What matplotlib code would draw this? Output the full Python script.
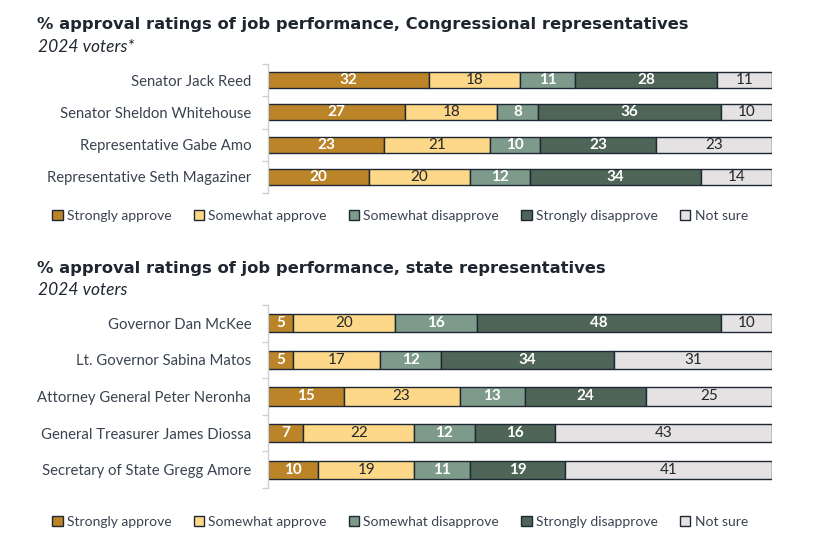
import matplotlib
matplotlib.use("Agg")
import matplotlib.pyplot as plt
from matplotlib.patches import Patch
import numpy as np

series = ["Strongly approve", "Somewhat approve", "Somewhat disapprove", "Strongly disapprove", "Not sure"]
colors = ["#BC8428", "#FDD888", "#7E9A8A", "#4F6558", "#E4E2E2"]
text_colors = ["white", "#262626", "white", "white", "#262626"]

cong_names = ["Senator Jack Reed", "Senator Sheldon Whitehouse",
              "Representative Gabe Amo", "Representative Seth Magaziner"]
cong_strong_app = [32, 27, 23, 20]
cong_some_app = [18, 18, 21, 20]
cong_some_dis = [11, 8, 10, 12]
cong_strong_dis = [28, 36, 23, 34]
cong_not_sure = [11, 10, 23, 14]

state_names = ["Governor Dan McKee", "Lt. Governor Sabina Matos",
               "Attorney General Peter Neronha", "General Treasurer James Diossa",
               "Secretary of State Gregg Amore"]
state_strong_app = [5, 5, 15, 7, 10]
state_some_app = [20, 17, 23, 22, 19]
state_some_dis = [16, 12, 13, 12, 11]
state_strong_dis = [48, 34, 24, 16, 19]
state_not_sure = [10, 31, 25, 43, 41]

title1 = "% approval ratings of job performance, Congressional representatives"
sub1 = "2024 voters*"
title2 = "% approval ratings of job performance, state representatives"
sub2 = "2024 voters"

FONT = "Lato"
LABEL_COLOR = "#3A4350"
EDGE = "#1E2833"

fig = plt.figure(figsize=(8.31, 5.57), dpi=100)


def draw(ax, names, data):
    data = np.array(data, dtype=float)
    totals = data.sum(axis=0)
    pct = data / totals * 100  # 100% stacked
    y = np.arange(len(names))
    left = np.zeros(len(names))
    for i in range(len(series)):
        ax.barh(y, pct[i], left=left, height=0.5, color=colors[i],
                edgecolor=EDGE, linewidth=1.0)
        for j in range(len(names)):
            ax.text(left[j] + pct[i][j] / 2, y[j], f"{int(data[i][j])}",
                    ha="center", va="center", color=text_colors[i],
                    fontsize=11, family=FONT,
                    fontweight="bold" if text_colors[i] == "white" else "normal")
        left += pct[i]
    ax.set_xlim(0, 100)
    ax.set_ylim(len(names) - 0.5, -0.5)
    ax.set_yticks(y)
    ax.set_yticklabels(names, family=FONT, fontsize=10.7, color=LABEL_COLOR)
    ax.tick_params(axis="y", which="major", length=0, pad=16)
    ax.set_yticks(np.arange(len(names) + 1) - 0.5, minor=True)
    ax.tick_params(axis="y", which="minor", length=4, color="#D0D0D0", width=1)
    ax.set_xticks([])
    for s in ["top", "right", "bottom"]:
        ax.spines[s].set_visible(False)
    ax.spines["left"].set_color("#D0D0D0")
    ax.spines["left"].set_linewidth(1)


L = 268 / 831
W = (772 - 268) / 831

ax1 = fig.add_axes([L, 1 - 193 / 557, W, (193 - 64) / 557])
draw(ax1, cong_names, [cong_strong_app, cong_some_app, cong_some_dis, cong_strong_dis, cong_not_sure])

ax2 = fig.add_axes([L, 1 - 488 / 557, W, (488 - 305) / 557])
draw(ax2, state_names, [state_strong_app, state_some_app, state_some_dis, state_strong_dis, state_not_sure])

for ax in (ax1, ax2):
    ax.tick_params(axis="y", which="major", pad=12)

fig.text(37 / 831, 1 - 25 / 557, title1, fontsize=11.8, fontweight="bold",
         family="DejaVu Sans", color="#1F2630", va="center", ha="left")
fig.text(38 / 831, 1 - 47 / 557, sub1, fontsize=12.5, style="italic",
         family=FONT, color="#1F2630", va="center", ha="left")
fig.text(37 / 831, 1 - 268 / 557, title2, fontsize=11.8, fontweight="bold",
         family="DejaVu Sans", color="#1F2630", va="center", ha="left")
fig.text(38 / 831, 1 - 290 / 557, sub2, fontsize=12.5, style="italic",
         family=FONT, color="#1F2630", va="center", ha="left")

handles = [Patch(facecolor=c, edgecolor=EDGE, linewidth=1.0) for c in colors]
for yy in [216, 522]:
    fig.legend(handles, series, loc="center", bbox_to_anchor=(400 / 831, 1 - yy / 557),
               ncol=5, frameon=False, handlelength=0.75, handleheight=0.75,
               handletextpad=0.3, columnspacing=1.6,
               prop={"family": FONT, "size": 10})
for leg in fig.legends:
    for t in leg.get_texts():
        t.set_color(LABEL_COLOR)

fig.savefig("out.png", dpi=100)
